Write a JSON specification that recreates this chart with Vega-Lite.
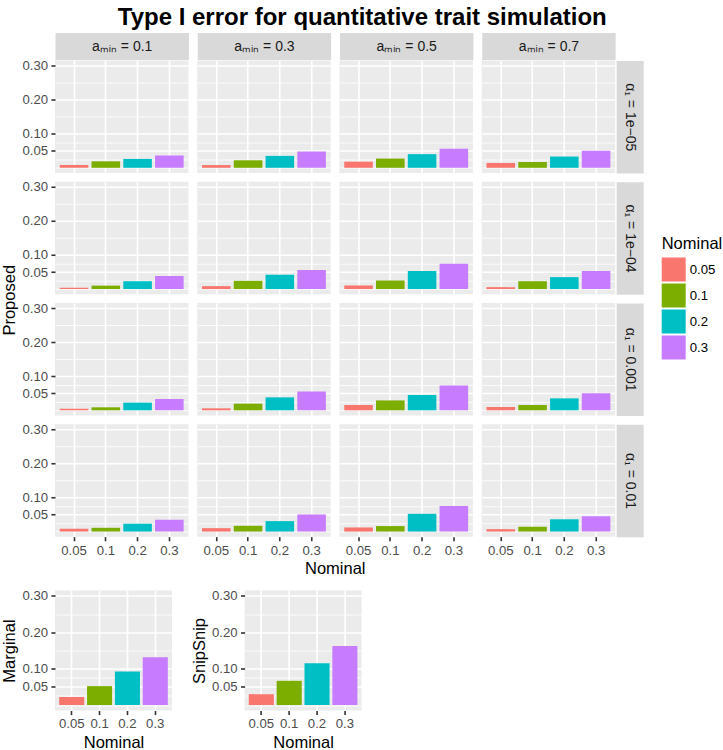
{
"$schema": "https://vega.github.io/schema/vega-lite/v6.json",
"padding": {"left": 1, "top": 5.5, "right": 1, "bottom": 0},
"title": {"text": "Type I error for quantitative trait simulation", "anchor": "middle", "frame": "bounds", "fontSize": 24, "fontWeight": "bold", "font": "Liberation Sans", "color": "#000000", "offset": 9.5},
"datasets": {
"sim": [
{"alpha":"1e-05","amin":"0.1","nominal":"0.05","proposed":0.008},{"alpha":"1e-05","amin":"0.1","nominal":"0.1","proposed":0.019},{"alpha":"1e-05","amin":"0.1","nominal":"0.2","proposed":0.026},{"alpha":"1e-05","amin":"0.1","nominal":"0.3","proposed":0.036},
{"alpha":"1e-05","amin":"0.3","nominal":"0.05","proposed":0.008},{"alpha":"1e-05","amin":"0.3","nominal":"0.1","proposed":0.022},{"alpha":"1e-05","amin":"0.3","nominal":"0.2","proposed":0.035},{"alpha":"1e-05","amin":"0.3","nominal":"0.3","proposed":0.048},
{"alpha":"1e-05","amin":"0.5","nominal":"0.05","proposed":0.018},{"alpha":"1e-05","amin":"0.5","nominal":"0.1","proposed":0.027},{"alpha":"1e-05","amin":"0.5","nominal":"0.2","proposed":0.040},{"alpha":"1e-05","amin":"0.5","nominal":"0.3","proposed":0.056},
{"alpha":"1e-05","amin":"0.7","nominal":"0.05","proposed":0.014},{"alpha":"1e-05","amin":"0.7","nominal":"0.1","proposed":0.017},{"alpha":"1e-05","amin":"0.7","nominal":"0.2","proposed":0.033},{"alpha":"1e-05","amin":"0.7","nominal":"0.3","proposed":0.050},
{"alpha":"1e-04","amin":"0.1","nominal":"0.05","proposed":0.004},{"alpha":"1e-04","amin":"0.1","nominal":"0.1","proposed":0.010},{"alpha":"1e-04","amin":"0.1","nominal":"0.2","proposed":0.023},{"alpha":"1e-04","amin":"0.1","nominal":"0.3","proposed":0.038},
{"alpha":"1e-04","amin":"0.3","nominal":"0.05","proposed":0.0085},{"alpha":"1e-04","amin":"0.3","nominal":"0.1","proposed":0.024},{"alpha":"1e-04","amin":"0.3","nominal":"0.2","proposed":0.042},{"alpha":"1e-04","amin":"0.3","nominal":"0.3","proposed":0.056},
{"alpha":"1e-04","amin":"0.5","nominal":"0.05","proposed":0.0105},{"alpha":"1e-04","amin":"0.5","nominal":"0.1","proposed":0.025},{"alpha":"1e-04","amin":"0.5","nominal":"0.2","proposed":0.053},{"alpha":"1e-04","amin":"0.5","nominal":"0.3","proposed":0.074},
{"alpha":"1e-04","amin":"0.7","nominal":"0.05","proposed":0.0056},{"alpha":"1e-04","amin":"0.7","nominal":"0.1","proposed":0.023},{"alpha":"1e-04","amin":"0.7","nominal":"0.2","proposed":0.035},{"alpha":"1e-04","amin":"0.7","nominal":"0.3","proposed":0.053},
{"alpha":"0.001","amin":"0.1","nominal":"0.05","proposed":0.0047},{"alpha":"0.001","amin":"0.1","nominal":"0.1","proposed":0.0087},{"alpha":"0.001","amin":"0.1","nominal":"0.2","proposed":0.0225},{"alpha":"0.001","amin":"0.1","nominal":"0.3","proposed":0.033},
{"alpha":"0.001","amin":"0.3","nominal":"0.05","proposed":0.0057},{"alpha":"0.001","amin":"0.3","nominal":"0.1","proposed":0.0195},{"alpha":"0.001","amin":"0.3","nominal":"0.2","proposed":0.038},{"alpha":"0.001","amin":"0.3","nominal":"0.3","proposed":0.055},
{"alpha":"0.001","amin":"0.5","nominal":"0.05","proposed":0.0156},{"alpha":"0.001","amin":"0.5","nominal":"0.1","proposed":0.029},{"alpha":"0.001","amin":"0.5","nominal":"0.2","proposed":0.045},{"alpha":"0.001","amin":"0.5","nominal":"0.3","proposed":0.073},
{"alpha":"0.001","amin":"0.7","nominal":"0.05","proposed":0.0097},{"alpha":"0.001","amin":"0.7","nominal":"0.1","proposed":0.0156},{"alpha":"0.001","amin":"0.7","nominal":"0.2","proposed":0.035},{"alpha":"0.001","amin":"0.7","nominal":"0.3","proposed":0.050},
{"alpha":"0.01","amin":"0.1","nominal":"0.05","proposed":0.008},{"alpha":"0.01","amin":"0.1","nominal":"0.1","proposed":0.011},{"alpha":"0.01","amin":"0.1","nominal":"0.2","proposed":0.023},{"alpha":"0.01","amin":"0.1","nominal":"0.3","proposed":0.0345},
{"alpha":"0.01","amin":"0.3","nominal":"0.05","proposed":0.0099},{"alpha":"0.01","amin":"0.3","nominal":"0.1","proposed":0.0168},{"alpha":"0.01","amin":"0.3","nominal":"0.2","proposed":0.0306},{"alpha":"0.01","amin":"0.3","nominal":"0.3","proposed":0.050},
{"alpha":"0.01","amin":"0.5","nominal":"0.05","proposed":0.012},{"alpha":"0.01","amin":"0.5","nominal":"0.1","proposed":0.016},{"alpha":"0.01","amin":"0.5","nominal":"0.2","proposed":0.052},{"alpha":"0.01","amin":"0.5","nominal":"0.3","proposed":0.075},
{"alpha":"0.01","amin":"0.7","nominal":"0.05","proposed":0.007},{"alpha":"0.01","amin":"0.7","nominal":"0.1","proposed":0.014},{"alpha":"0.01","amin":"0.7","nominal":"0.2","proposed":0.036},{"alpha":"0.01","amin":"0.7","nominal":"0.3","proposed":0.045}
],
"bottom": [
{"method":"Marginal","nominal":"0.05","rate":0.022},{"method":"Marginal","nominal":"0.1","rate":0.052},{"method":"Marginal","nominal":"0.2","rate":0.092},{"method":"Marginal","nominal":"0.3","rate":0.1315},
{"method":"SnipSnip","nominal":"0.05","rate":0.030},{"method":"SnipSnip","nominal":"0.1","rate":0.0666},{"method":"SnipSnip","nominal":"0.2","rate":0.115},{"method":"SnipSnip","nominal":"0.3","rate":0.1625}
]
},
"spacing": 11,
"vconcat": [
{
"columns": 4,
"bounds": "flush",
"spacing": {"row": 8.25, "column": 8.25},
"concat": [
{"width": 133.4, "height": 112.4, "data": {"name": "sim"}, "transform": [{"filter": "datum.alpha == '1e-05' && datum.amin == '0.1'"}], "mark": "bar",
 "encoding": {
  "x": {"field": "nominal", "type": "nominal", "scale": {"domain": ["0.05","0.1","0.2","0.3"], "paddingInner": 0.1, "paddingOuter": 0.15}, "axis": {"orient": "top", "labels": false, "ticks": false, "grid": true, "bandPosition": 0.5, "domain": true, "domainColor": "#D9D9D9", "domainWidth": 27, "offset": 14.5, "title": "aₘᵢₙ = 0.1", "titleY": 0, "titleBaseline": "middle", "titleFontSize": 14, "titleColor": "#1A1A1A"}},
  "y": {"field": "proposed", "type": "quantitative", "scale": {"domain": [-0.015, 0.315], "nice": false}, "axis": {"values": [0,0.025,0.05,0.075,0.1,0.15,0.2,0.25,0.3], "labelExpr": "indexof([0.05,0.1,0.2,0.3], datum.value) >= 0 ? format(datum.value, '.2f') : ''", "tickOpacity": {"condition": {"test": "indexof([0.05,0.1,0.2,0.3], datum.value) >= 0", "value": 1}, "value": 0}, "gridWidth": {"condition": {"test": "indexof([0.05,0.1,0.2,0.3], datum.value) >= 0", "value": 1.6}, "value": 0.8}, "title": null}},
  "color": {"field": "nominal", "type": "nominal", "scale": {"domain": ["0.05","0.1","0.2","0.3"], "range": ["#F8766D","#7CAE00","#00BFC4","#C77CFF"]}, "legend": {"orient": "none", "legendX": 606.7, "legendY": 175, "title": "Nominal", "titleFontSize": 16.5, "titleFontWeight": "normal", "titleColor": "#000000", "titleFont": "Liberation Sans", "titlePadding": 5.5, "labelFontSize": 13.2, "labelColor": "#000000", "labelFont": "Liberation Sans", "symbolType": "square", "symbolSize": 576, "symbolStrokeWidth": 0, "symbolOpacity": 1, "rowPadding": 2, "labelOffset": 4, "padding": 0}}
 }},
{"width": 133.4, "height": 112.4, "data": {"name": "sim"}, "transform": [{"filter": "datum.alpha == '1e-05' && datum.amin == '0.3'"}], "mark": "bar",
 "encoding": {
  "x": {"field": "nominal", "type": "nominal", "scale": {"domain": ["0.05","0.1","0.2","0.3"], "paddingInner": 0.1, "paddingOuter": 0.15}, "axis": {"orient": "top", "labels": false, "ticks": false, "grid": true, "bandPosition": 0.5, "domain": true, "domainColor": "#D9D9D9", "domainWidth": 27, "offset": 14.5, "title": "aₘᵢₙ = 0.3", "titleY": 0, "titleBaseline": "middle", "titleFontSize": 14, "titleColor": "#1A1A1A"}},
  "y": {"field": "proposed", "type": "quantitative", "scale": {"domain": [-0.015, 0.315], "nice": false}, "axis": {"values": [0,0.025,0.05,0.075,0.1,0.15,0.2,0.25,0.3], "labels": false, "ticks": false, "gridWidth": {"condition": {"test": "indexof([0.05,0.1,0.2,0.3], datum.value) >= 0", "value": 1.6}, "value": 0.8}, "title": null}},
  "color": {"field": "nominal", "type": "nominal", "scale": {"domain": ["0.05","0.1","0.2","0.3"], "range": ["#F8766D","#7CAE00","#00BFC4","#C77CFF"]}}
 }},
{"width": 133.4, "height": 112.4, "data": {"name": "sim"}, "transform": [{"filter": "datum.alpha == '1e-05' && datum.amin == '0.5'"}], "mark": "bar",
 "encoding": {
  "x": {"field": "nominal", "type": "nominal", "scale": {"domain": ["0.05","0.1","0.2","0.3"], "paddingInner": 0.1, "paddingOuter": 0.15}, "axis": {"orient": "top", "labels": false, "ticks": false, "grid": true, "bandPosition": 0.5, "domain": true, "domainColor": "#D9D9D9", "domainWidth": 27, "offset": 14.5, "title": "aₘᵢₙ = 0.5", "titleY": 0, "titleBaseline": "middle", "titleFontSize": 14, "titleColor": "#1A1A1A"}},
  "y": {"field": "proposed", "type": "quantitative", "scale": {"domain": [-0.015, 0.315], "nice": false}, "axis": {"values": [0,0.025,0.05,0.075,0.1,0.15,0.2,0.25,0.3], "labels": false, "ticks": false, "gridWidth": {"condition": {"test": "indexof([0.05,0.1,0.2,0.3], datum.value) >= 0", "value": 1.6}, "value": 0.8}, "title": null}},
  "color": {"field": "nominal", "type": "nominal", "scale": {"domain": ["0.05","0.1","0.2","0.3"], "range": ["#F8766D","#7CAE00","#00BFC4","#C77CFF"]}}
 }},
{"width": 133.4, "height": 112.4, "data": {"name": "sim"}, "transform": [{"filter": "datum.alpha == '1e-05' && datum.amin == '0.7'"}], "mark": "bar",
 "encoding": {
  "x": {"field": "nominal", "type": "nominal", "scale": {"domain": ["0.05","0.1","0.2","0.3"], "paddingInner": 0.1, "paddingOuter": 0.15}, "axis": {"orient": "top", "labels": false, "ticks": false, "grid": true, "bandPosition": 0.5, "domain": true, "domainColor": "#D9D9D9", "domainWidth": 27, "offset": 14.5, "title": "aₘᵢₙ = 0.7", "titleY": 0, "titleBaseline": "middle", "titleFontSize": 14, "titleColor": "#1A1A1A"}},
  "y": {"field": "proposed", "type": "quantitative", "scale": {"domain": [-0.015, 0.315], "nice": false}, "axis": {"orient": "right", "values": [0,0.025,0.05,0.075,0.1,0.15,0.2,0.25,0.3], "labels": false, "ticks": false, "gridWidth": {"condition": {"test": "indexof([0.05,0.1,0.2,0.3], datum.value) >= 0", "value": 1.6}, "value": 0.8}, "domain": true, "domainColor": "#D9D9D9", "domainWidth": 27, "offset": 14.5, "title": "α₁ = 1e−05", "titleAngle": 90, "titleX": 0, "titleAlign": "center", "titleBaseline": "middle", "titleFontSize": 14, "titleColor": "#1A1A1A"}},
  "color": {"field": "nominal", "type": "nominal", "scale": {"domain": ["0.05","0.1","0.2","0.3"], "range": ["#F8766D","#7CAE00","#00BFC4","#C77CFF"]}}
 }},
{"width": 133.4, "height": 112.4, "data": {"name": "sim"}, "transform": [{"filter": "datum.alpha == '1e-04' && datum.amin == '0.1'"}], "mark": "bar",
 "encoding": {
  "x": {"field": "nominal", "type": "nominal", "scale": {"domain": ["0.05","0.1","0.2","0.3"], "paddingInner": 0.1, "paddingOuter": 0.15}, "axis": {"labels": false, "ticks": false, "grid": true, "bandPosition": 0.5, "title": null}},
  "y": {"field": "proposed", "type": "quantitative", "scale": {"domain": [-0.015, 0.315], "nice": false}, "axis": {"values": [0,0.025,0.05,0.075,0.1,0.15,0.2,0.25,0.3], "labelExpr": "indexof([0.05,0.1,0.2,0.3], datum.value) >= 0 ? format(datum.value, '.2f') : ''", "tickOpacity": {"condition": {"test": "indexof([0.05,0.1,0.2,0.3], datum.value) >= 0", "value": 1}, "value": 0}, "gridWidth": {"condition": {"test": "indexof([0.05,0.1,0.2,0.3], datum.value) >= 0", "value": 1.6}, "value": 0.8}, "title": "Proposed", "titleY": 118}},
  "color": {"field": "nominal", "type": "nominal", "scale": {"domain": ["0.05","0.1","0.2","0.3"], "range": ["#F8766D","#7CAE00","#00BFC4","#C77CFF"]}}
 }},
{"width": 133.4, "height": 112.4, "data": {"name": "sim"}, "transform": [{"filter": "datum.alpha == '1e-04' && datum.amin == '0.3'"}], "mark": "bar",
 "encoding": {
  "x": {"field": "nominal", "type": "nominal", "scale": {"domain": ["0.05","0.1","0.2","0.3"], "paddingInner": 0.1, "paddingOuter": 0.15}, "axis": {"labels": false, "ticks": false, "grid": true, "bandPosition": 0.5, "title": null}},
  "y": {"field": "proposed", "type": "quantitative", "scale": {"domain": [-0.015, 0.315], "nice": false}, "axis": {"values": [0,0.025,0.05,0.075,0.1,0.15,0.2,0.25,0.3], "labels": false, "ticks": false, "gridWidth": {"condition": {"test": "indexof([0.05,0.1,0.2,0.3], datum.value) >= 0", "value": 1.6}, "value": 0.8}, "title": null}},
  "color": {"field": "nominal", "type": "nominal", "scale": {"domain": ["0.05","0.1","0.2","0.3"], "range": ["#F8766D","#7CAE00","#00BFC4","#C77CFF"]}}
 }},
{"width": 133.4, "height": 112.4, "data": {"name": "sim"}, "transform": [{"filter": "datum.alpha == '1e-04' && datum.amin == '0.5'"}], "mark": "bar",
 "encoding": {
  "x": {"field": "nominal", "type": "nominal", "scale": {"domain": ["0.05","0.1","0.2","0.3"], "paddingInner": 0.1, "paddingOuter": 0.15}, "axis": {"labels": false, "ticks": false, "grid": true, "bandPosition": 0.5, "title": null}},
  "y": {"field": "proposed", "type": "quantitative", "scale": {"domain": [-0.015, 0.315], "nice": false}, "axis": {"values": [0,0.025,0.05,0.075,0.1,0.15,0.2,0.25,0.3], "labels": false, "ticks": false, "gridWidth": {"condition": {"test": "indexof([0.05,0.1,0.2,0.3], datum.value) >= 0", "value": 1.6}, "value": 0.8}, "title": null}},
  "color": {"field": "nominal", "type": "nominal", "scale": {"domain": ["0.05","0.1","0.2","0.3"], "range": ["#F8766D","#7CAE00","#00BFC4","#C77CFF"]}}
 }},
{"width": 133.4, "height": 112.4, "data": {"name": "sim"}, "transform": [{"filter": "datum.alpha == '1e-04' && datum.amin == '0.7'"}], "mark": "bar",
 "encoding": {
  "x": {"field": "nominal", "type": "nominal", "scale": {"domain": ["0.05","0.1","0.2","0.3"], "paddingInner": 0.1, "paddingOuter": 0.15}, "axis": {"labels": false, "ticks": false, "grid": true, "bandPosition": 0.5, "title": null}},
  "y": {"field": "proposed", "type": "quantitative", "scale": {"domain": [-0.015, 0.315], "nice": false}, "axis": {"orient": "right", "values": [0,0.025,0.05,0.075,0.1,0.15,0.2,0.25,0.3], "labels": false, "ticks": false, "gridWidth": {"condition": {"test": "indexof([0.05,0.1,0.2,0.3], datum.value) >= 0", "value": 1.6}, "value": 0.8}, "domain": true, "domainColor": "#D9D9D9", "domainWidth": 27, "offset": 14.5, "title": "α₁ = 1e−04", "titleAngle": 90, "titleX": 0, "titleAlign": "center", "titleBaseline": "middle", "titleFontSize": 14, "titleColor": "#1A1A1A"}},
  "color": {"field": "nominal", "type": "nominal", "scale": {"domain": ["0.05","0.1","0.2","0.3"], "range": ["#F8766D","#7CAE00","#00BFC4","#C77CFF"]}}
 }},
{"width": 133.4, "height": 112.4, "data": {"name": "sim"}, "transform": [{"filter": "datum.alpha == '0.001' && datum.amin == '0.1'"}], "mark": "bar",
 "encoding": {
  "x": {"field": "nominal", "type": "nominal", "scale": {"domain": ["0.05","0.1","0.2","0.3"], "paddingInner": 0.1, "paddingOuter": 0.15}, "axis": {"labels": false, "ticks": false, "grid": true, "bandPosition": 0.5, "title": null}},
  "y": {"field": "proposed", "type": "quantitative", "scale": {"domain": [-0.015, 0.315], "nice": false}, "axis": {"values": [0,0.025,0.05,0.075,0.1,0.15,0.2,0.25,0.3], "labelExpr": "indexof([0.05,0.1,0.2,0.3], datum.value) >= 0 ? format(datum.value, '.2f') : ''", "tickOpacity": {"condition": {"test": "indexof([0.05,0.1,0.2,0.3], datum.value) >= 0", "value": 1}, "value": 0}, "gridWidth": {"condition": {"test": "indexof([0.05,0.1,0.2,0.3], datum.value) >= 0", "value": 1.6}, "value": 0.8}, "title": null}},
  "color": {"field": "nominal", "type": "nominal", "scale": {"domain": ["0.05","0.1","0.2","0.3"], "range": ["#F8766D","#7CAE00","#00BFC4","#C77CFF"]}}
 }},
{"width": 133.4, "height": 112.4, "data": {"name": "sim"}, "transform": [{"filter": "datum.alpha == '0.001' && datum.amin == '0.3'"}], "mark": "bar",
 "encoding": {
  "x": {"field": "nominal", "type": "nominal", "scale": {"domain": ["0.05","0.1","0.2","0.3"], "paddingInner": 0.1, "paddingOuter": 0.15}, "axis": {"labels": false, "ticks": false, "grid": true, "bandPosition": 0.5, "title": null}},
  "y": {"field": "proposed", "type": "quantitative", "scale": {"domain": [-0.015, 0.315], "nice": false}, "axis": {"values": [0,0.025,0.05,0.075,0.1,0.15,0.2,0.25,0.3], "labels": false, "ticks": false, "gridWidth": {"condition": {"test": "indexof([0.05,0.1,0.2,0.3], datum.value) >= 0", "value": 1.6}, "value": 0.8}, "title": null}},
  "color": {"field": "nominal", "type": "nominal", "scale": {"domain": ["0.05","0.1","0.2","0.3"], "range": ["#F8766D","#7CAE00","#00BFC4","#C77CFF"]}}
 }},
{"width": 133.4, "height": 112.4, "data": {"name": "sim"}, "transform": [{"filter": "datum.alpha == '0.001' && datum.amin == '0.5'"}], "mark": "bar",
 "encoding": {
  "x": {"field": "nominal", "type": "nominal", "scale": {"domain": ["0.05","0.1","0.2","0.3"], "paddingInner": 0.1, "paddingOuter": 0.15}, "axis": {"labels": false, "ticks": false, "grid": true, "bandPosition": 0.5, "title": null}},
  "y": {"field": "proposed", "type": "quantitative", "scale": {"domain": [-0.015, 0.315], "nice": false}, "axis": {"values": [0,0.025,0.05,0.075,0.1,0.15,0.2,0.25,0.3], "labels": false, "ticks": false, "gridWidth": {"condition": {"test": "indexof([0.05,0.1,0.2,0.3], datum.value) >= 0", "value": 1.6}, "value": 0.8}, "title": null}},
  "color": {"field": "nominal", "type": "nominal", "scale": {"domain": ["0.05","0.1","0.2","0.3"], "range": ["#F8766D","#7CAE00","#00BFC4","#C77CFF"]}}
 }},
{"width": 133.4, "height": 112.4, "data": {"name": "sim"}, "transform": [{"filter": "datum.alpha == '0.001' && datum.amin == '0.7'"}], "mark": "bar",
 "encoding": {
  "x": {"field": "nominal", "type": "nominal", "scale": {"domain": ["0.05","0.1","0.2","0.3"], "paddingInner": 0.1, "paddingOuter": 0.15}, "axis": {"labels": false, "ticks": false, "grid": true, "bandPosition": 0.5, "title": null}},
  "y": {"field": "proposed", "type": "quantitative", "scale": {"domain": [-0.015, 0.315], "nice": false}, "axis": {"orient": "right", "values": [0,0.025,0.05,0.075,0.1,0.15,0.2,0.25,0.3], "labels": false, "ticks": false, "gridWidth": {"condition": {"test": "indexof([0.05,0.1,0.2,0.3], datum.value) >= 0", "value": 1.6}, "value": 0.8}, "domain": true, "domainColor": "#D9D9D9", "domainWidth": 27, "offset": 14.5, "title": "α₁ = 0.001", "titleAngle": 90, "titleX": 0, "titleAlign": "center", "titleBaseline": "middle", "titleFontSize": 14, "titleColor": "#1A1A1A"}},
  "color": {"field": "nominal", "type": "nominal", "scale": {"domain": ["0.05","0.1","0.2","0.3"], "range": ["#F8766D","#7CAE00","#00BFC4","#C77CFF"]}}
 }},
{"width": 133.4, "height": 112.4, "data": {"name": "sim"}, "transform": [{"filter": "datum.alpha == '0.01' && datum.amin == '0.1'"}], "mark": "bar",
 "encoding": {
  "x": {"field": "nominal", "type": "nominal", "scale": {"domain": ["0.05","0.1","0.2","0.3"], "paddingInner": 0.1, "paddingOuter": 0.15}, "axis": {"labelAngle": 0, "grid": true, "bandPosition": 0.5, "title": null}},
  "y": {"field": "proposed", "type": "quantitative", "scale": {"domain": [-0.015, 0.315], "nice": false}, "axis": {"values": [0,0.025,0.05,0.075,0.1,0.15,0.2,0.25,0.3], "labelExpr": "indexof([0.05,0.1,0.2,0.3], datum.value) >= 0 ? format(datum.value, '.2f') : ''", "tickOpacity": {"condition": {"test": "indexof([0.05,0.1,0.2,0.3], datum.value) >= 0", "value": 1}, "value": 0}, "gridWidth": {"condition": {"test": "indexof([0.05,0.1,0.2,0.3], datum.value) >= 0", "value": 1.6}, "value": 0.8}, "title": null}},
  "color": {"field": "nominal", "type": "nominal", "scale": {"domain": ["0.05","0.1","0.2","0.3"], "range": ["#F8766D","#7CAE00","#00BFC4","#C77CFF"]}}
 }},
{"width": 133.4, "height": 112.4, "data": {"name": "sim"}, "transform": [{"filter": "datum.alpha == '0.01' && datum.amin == '0.3'"}], "mark": "bar",
 "encoding": {
  "x": {"field": "nominal", "type": "nominal", "scale": {"domain": ["0.05","0.1","0.2","0.3"], "paddingInner": 0.1, "paddingOuter": 0.15}, "axis": {"labelAngle": 0, "grid": true, "bandPosition": 0.5, "title": "Nominal", "titleX": 137.5}},
  "y": {"field": "proposed", "type": "quantitative", "scale": {"domain": [-0.015, 0.315], "nice": false}, "axis": {"values": [0,0.025,0.05,0.075,0.1,0.15,0.2,0.25,0.3], "labels": false, "ticks": false, "gridWidth": {"condition": {"test": "indexof([0.05,0.1,0.2,0.3], datum.value) >= 0", "value": 1.6}, "value": 0.8}, "title": null}},
  "color": {"field": "nominal", "type": "nominal", "scale": {"domain": ["0.05","0.1","0.2","0.3"], "range": ["#F8766D","#7CAE00","#00BFC4","#C77CFF"]}}
 }},
{"width": 133.4, "height": 112.4, "data": {"name": "sim"}, "transform": [{"filter": "datum.alpha == '0.01' && datum.amin == '0.5'"}], "mark": "bar",
 "encoding": {
  "x": {"field": "nominal", "type": "nominal", "scale": {"domain": ["0.05","0.1","0.2","0.3"], "paddingInner": 0.1, "paddingOuter": 0.15}, "axis": {"labelAngle": 0, "grid": true, "bandPosition": 0.5, "title": null}},
  "y": {"field": "proposed", "type": "quantitative", "scale": {"domain": [-0.015, 0.315], "nice": false}, "axis": {"values": [0,0.025,0.05,0.075,0.1,0.15,0.2,0.25,0.3], "labels": false, "ticks": false, "gridWidth": {"condition": {"test": "indexof([0.05,0.1,0.2,0.3], datum.value) >= 0", "value": 1.6}, "value": 0.8}, "title": null}},
  "color": {"field": "nominal", "type": "nominal", "scale": {"domain": ["0.05","0.1","0.2","0.3"], "range": ["#F8766D","#7CAE00","#00BFC4","#C77CFF"]}}
 }},
{"width": 133.4, "height": 112.4, "data": {"name": "sim"}, "transform": [{"filter": "datum.alpha == '0.01' && datum.amin == '0.7'"}], "mark": "bar",
 "encoding": {
  "x": {"field": "nominal", "type": "nominal", "scale": {"domain": ["0.05","0.1","0.2","0.3"], "paddingInner": 0.1, "paddingOuter": 0.15}, "axis": {"labelAngle": 0, "grid": true, "bandPosition": 0.5, "title": null}},
  "y": {"field": "proposed", "type": "quantitative", "scale": {"domain": [-0.015, 0.315], "nice": false}, "axis": {"orient": "right", "values": [0,0.025,0.05,0.075,0.1,0.15,0.2,0.25,0.3], "labels": false, "ticks": false, "gridWidth": {"condition": {"test": "indexof([0.05,0.1,0.2,0.3], datum.value) >= 0", "value": 1.6}, "value": 0.8}, "domain": true, "domainColor": "#D9D9D9", "domainWidth": 27, "offset": 14.5, "title": "α₁ = 0.01", "titleAngle": 90, "titleX": 0, "titleAlign": "center", "titleBaseline": "middle", "titleFontSize": 14, "titleColor": "#1A1A1A"}},
  "color": {"field": "nominal", "type": "nominal", "scale": {"domain": ["0.05","0.1","0.2","0.3"], "range": ["#F8766D","#7CAE00","#00BFC4","#C77CFF"]}}
 }}
]
},
{
"spacing": 18.6,
"hconcat": [
{"width": 117, "height": 120, "data": {"name": "bottom"}, "transform": [{"filter": "datum.method == 'Marginal'"}], "mark": "bar",
 "encoding": {
  "x": {"field": "nominal", "type": "nominal", "scale": {"domain": ["0.05","0.1","0.2","0.3"], "paddingInner": 0.1, "paddingOuter": 0.15}, "axis": {"labelAngle": 0, "grid": true, "bandPosition": 0.5, "title": "Nominal"}},
  "y": {"field": "rate", "type": "quantitative", "scale": {"domain": [-0.015, 0.315], "nice": false}, "axis": {"values": [0,0.025,0.05,0.075,0.1,0.15,0.2,0.25,0.3], "labelExpr": "indexof([0.05,0.1,0.2,0.3], datum.value) >= 0 ? format(datum.value, '.2f') : ''", "tickOpacity": {"condition": {"test": "indexof([0.05,0.1,0.2,0.3], datum.value) >= 0", "value": 1}, "value": 0}, "gridWidth": {"condition": {"test": "indexof([0.05,0.1,0.2,0.3], datum.value) >= 0", "value": 1.6}, "value": 0.8}, "title": "Marginal"}},
  "color": {"field": "nominal", "type": "nominal", "scale": {"domain": ["0.05","0.1","0.2","0.3"], "range": ["#F8766D","#7CAE00","#00BFC4","#C77CFF"]}}
 }},
{"width": 117, "height": 120, "data": {"name": "bottom"}, "transform": [{"filter": "datum.method == 'SnipSnip'"}], "mark": "bar",
 "encoding": {
  "x": {"field": "nominal", "type": "nominal", "scale": {"domain": ["0.05","0.1","0.2","0.3"], "paddingInner": 0.1, "paddingOuter": 0.15}, "axis": {"labelAngle": 0, "grid": true, "bandPosition": 0.5, "title": "Nominal"}},
  "y": {"field": "rate", "type": "quantitative", "scale": {"domain": [-0.015, 0.315], "nice": false}, "axis": {"values": [0,0.025,0.05,0.075,0.1,0.15,0.2,0.25,0.3], "labelExpr": "indexof([0.05,0.1,0.2,0.3], datum.value) >= 0 ? format(datum.value, '.2f') : ''", "tickOpacity": {"condition": {"test": "indexof([0.05,0.1,0.2,0.3], datum.value) >= 0", "value": 1}, "value": 0}, "gridWidth": {"condition": {"test": "indexof([0.05,0.1,0.2,0.3], datum.value) >= 0", "value": 1.6}, "value": 0.8}, "title": "SnipSnip"}},
  "color": {"field": "nominal", "type": "nominal", "scale": {"domain": ["0.05","0.1","0.2","0.3"], "range": ["#F8766D","#7CAE00","#00BFC4","#C77CFF"]}}
 }}
]
}
],
"config": {
  "font": "Liberation Sans",
  "view": {"fill": "#EBEBEB", "stroke": null},
  "axis": {"domain": false, "gridColor": "#FFFFFF", "gridWidth": 1.6, "gridOpacity": 1, "tickColor": "#333333", "tickSize": 4.1, "tickWidth": 1.6, "labelFont": "Liberation Sans", "labelFontSize": 13.2, "labelColor": "#4D4D4D", "labelPadding": 3.3, "titleFont": "Liberation Sans", "titleFontSize": 16.5, "titleFontWeight": "normal", "titleColor": "#000000", "titlePadding": 4.1}
}
}
